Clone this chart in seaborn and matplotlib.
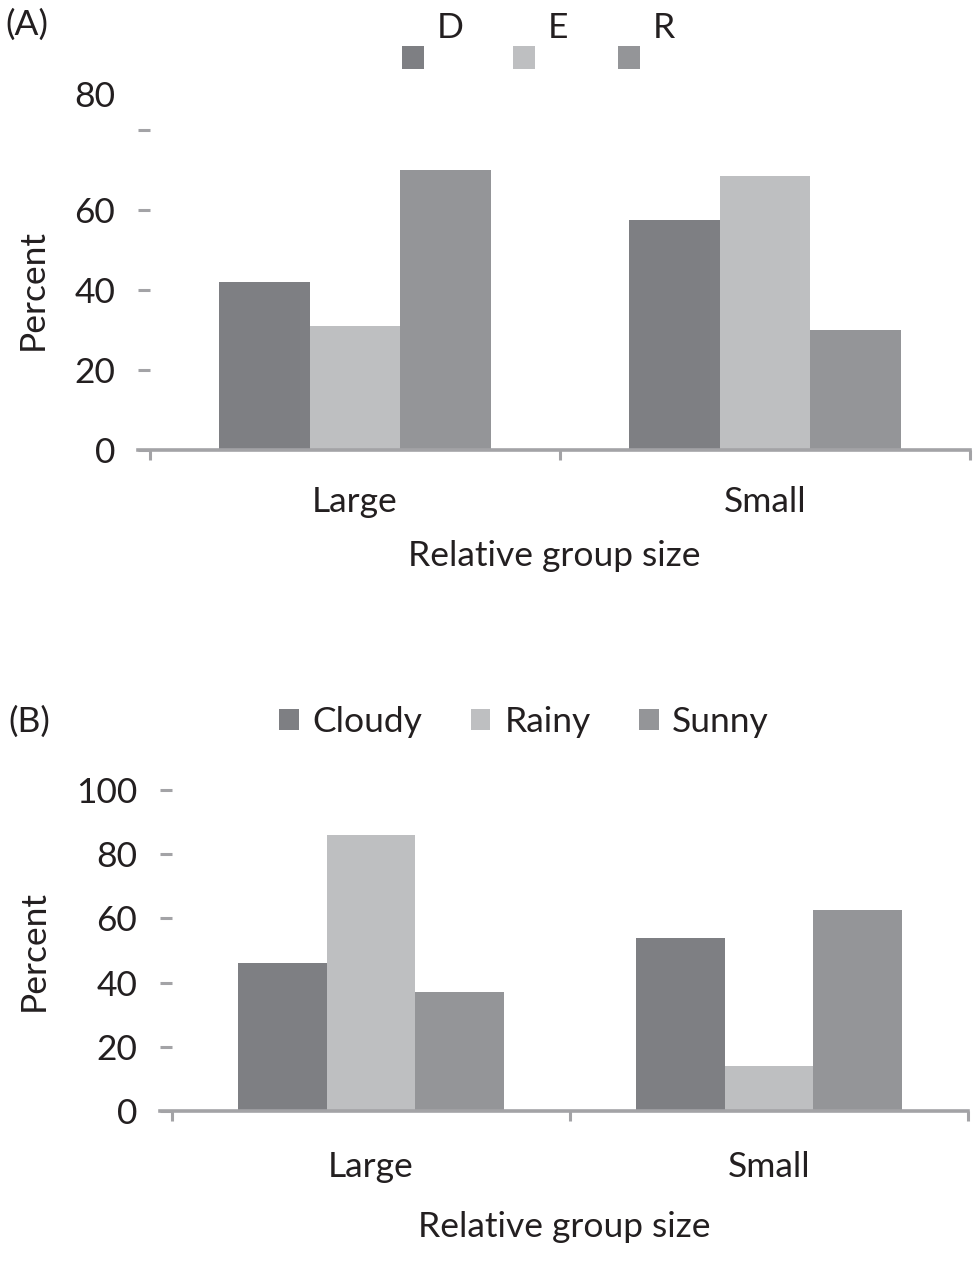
import matplotlib
matplotlib.use("Agg")
import matplotlib.pyplot as plt
import seaborn as sns
import pandas as pd
from matplotlib.patches import Patch

# ---- data ----
groups = ["Large", "Small"]
strat_names = ["D", "E", "R"]
strat_large = [42, 31, 70]
strat_small = [57.5, 68.5, 30]
weather_names = ["Cloudy", "Rainy", "Sunny"]
weather_large = [46, 86, 37]
weather_small = [54, 14, 62.5]
yticks_a = [0, 20, 40, 60, 80]
yticks_b = [0, 20, 40, 60, 80, 100]

colors = ["#7e7f83", "#bebfc1", "#949598"]
axis_col = "#a3a3a6"
txt_col = "#231f20"

sns.set_theme(style="white")
FONT = "Lato"
plt.rcParams["font.family"] = [FONT, "DejaVu Sans"]
FS = 25.5

fig = plt.figure(figsize=(9.75, 12.73), dpi=100)
W, H = 975, 1273

def px_ax(x0, x1, y_top, y_bot):
    return fig.add_axes([x0 / W, 1 - y_bot / H, (x1 - x0) / W, (y_bot - y_top) / H])

def style(ax, ymax, yticks, labels, catw, xpad):
    ax.set_xlim(-0.5 - 12 / catw, 1.5)
    ax.set_ylim(0, ymax)
    for s in ["left", "right", "top"]:
        ax.spines[s].set_visible(False)
    ax.spines["bottom"].set_color(axis_col)
    ax.spines["bottom"].set_linewidth(2.6)
    ax.spines["bottom"].set_zorder(5)
    ax.set_yticks(yticks)
    ax.set_yticklabels(labels)
    ax.tick_params(axis="y", direction="in", length=8.6, width=2.2, color=axis_col,
                   labelsize=FS, labelcolor=txt_col, pad=16.5, left=True)
    ax.set_xticks([0, 1])
    ax.set_xticklabels(groups)
    ax.tick_params(axis="x", which="major", length=0, labelsize=FS, labelcolor=txt_col, pad=xpad)
    ax.set_xticks([-0.5, 0.5, 1.5], minor=True)
    ax.tick_params(axis="x", which="minor", direction="out", length=7, width=2.2,
                   color=axis_col, bottom=True)
    ax.set_ylabel("Percent", fontsize=FS, color=txt_col)
    ax.set_xlabel("Relative group size", fontsize=FS, color=txt_col)
    ax.grid(False)

# ---- Panel A ----
dfa = pd.DataFrame({
    "group": [g for s in strat_names for g in groups],
    "strategy": [s for s in strat_names for g in groups],
    "value": [(strat_large if g == "Large" else strat_small)[strat_names.index(s)]
              for s in strat_names for g in groups],
})
axA = px_ax(138, 970, 130, 450)
sns.barplot(data=dfa, x="group", y="value", hue="strategy", order=groups,
            hue_order=strat_names, palette=colors, width=0.665, saturation=1,
            ax=axA, legend=False, edgecolor="none")
style(axA, 80, yticks_a, ["0", "20", "40", "60", ""], 410, 26)
axA.yaxis.set_label_coords(-0.107, 0.5)
axA.xaxis.set_label_coords(0.5, -0.28)
axA.annotate("80", xy=(0, 80), xycoords=("axes fraction", "data"),
             xytext=(-16.5, 24), textcoords="offset points",
             ha="right", va="center", fontsize=FS, color=txt_col)
handlesA = [Patch(facecolor=c, edgecolor="none") for c in colors]
legA = fig.legend(handlesA, strat_names, loc="center", bbox_to_anchor=(532 / W, 1 - 60 / H),
                  ncol=3, frameon=False, fontsize=FS, handlelength=0.62, handleheight=0.64,
                  handletextpad=0.0, columnspacing=1.75, borderpad=0, borderaxespad=0)
for t in legA.get_texts():
    t.set_color(txt_col)
    t.set_position((13, 32))
fig.text(5 / W, 1 - 25 / H, "(A)", fontsize=FS, color=txt_col, va="center", ha="left")

# ---- Panel B ----
dfb = pd.DataFrame({
    "group": [g for s in weather_names for g in groups],
    "weather": [s for s in weather_names for g in groups],
    "value": [(weather_large if g == "Large" else weather_small)[weather_names.index(s)]
              for s in weather_names for g in groups],
})
axB = px_ax(160, 968, 790, 1111)
sns.barplot(data=dfb, x="group", y="value", hue="weather", order=groups,
            hue_order=weather_names, palette=colors, width=0.67, saturation=1,
            ax=axB, legend=False, edgecolor="none")
style(axB, 100, yticks_b, [str(v) for v in yticks_b], 398, 29)
axB.yaxis.set_label_coords(-0.136, 0.5)
axB.xaxis.set_label_coords(0.5, -0.31)
handlesB = [Patch(facecolor=c, edgecolor="none") for c in colors]
legB = fig.legend(handlesB, weather_names, loc="center", bbox_to_anchor=(524 / W, 1 - 722 / H),
                  ncol=3, frameon=False, fontsize=FS, handlelength=0.56, handleheight=0.56,
                  handletextpad=0.39, columnspacing=1.36, borderpad=0, borderaxespad=0)
for t in legB.get_texts():
    t.set_color(txt_col)
fig.text(8 / W, 1 - 722 / H, "(B)", fontsize=FS, color=txt_col, va="center", ha="left")

fig.savefig("out.png", dpi=100, facecolor="white")
